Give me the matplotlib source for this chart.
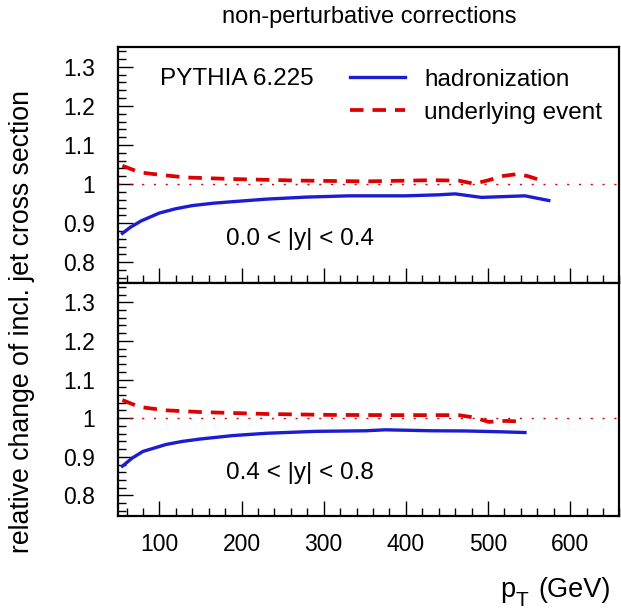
import numpy as np
import matplotlib
matplotlib.use('Agg')
import matplotlib.pyplot as plt
from matplotlib.ticker import MultipleLocator, FormatStrFormatter

plt.rcParams['font.family'] = ['Liberation Sans', 'DejaVu Sans']

# |y| < 0.4
pt_had_1 = [55, 65, 78, 100, 120, 140, 165, 189, 230, 278, 331, 400, 440, 460, 492, 545, 574]
had_1 = [0.874, 0.890, 0.906, 0.926, 0.937, 0.945, 0.951, 0.955, 0.9615, 0.9667, 0.970, 0.970,
         0.9726, 0.975, 0.966, 0.970, 0.958]
pt_ue_1 = [55, 76, 100, 132, 189, 270, 351, 432, 464, 483, 499, 519, 537, 549, 570]
ue_1 = [1.047, 1.030, 1.024, 1.017, 1.013, 1.009, 1.007, 1.010, 1.009, 1.001, 1.009, 1.021,
        1.026, 1.020, 1.006]

# 0.4 < |y| < 0.8
pt_had_2 = [55, 67, 80, 108, 128, 149, 189, 230, 290, 351, 375, 432, 473, 513, 545]
had_2 = [0.876, 0.897, 0.914, 0.932, 0.940, 0.946, 0.955, 0.961, 0.966, 0.9675, 0.970, 0.9675,
         0.967, 0.965, 0.963]
pt_ue_2 = [55, 76, 108, 149, 230, 310, 391, 464, 483, 501, 521, 541]
ue_2 = [1.047, 1.029, 1.0205, 1.016, 1.011, 1.0085, 1.008, 1.008, 1.002, 0.9905, 0.993, 0.9915]

panels = [(pt_had_1, had_1, pt_ue_1, ue_1, '0.0 < |y| < 0.4'),
          (pt_had_2, had_2, pt_ue_2, ue_2, '0.4 < |y| < 0.8')]

blue = '#1c1cd2'
red = '#dd0000'

fig = plt.figure(figsize=(6.21, 6.12), dpi=100)
ax1 = fig.add_axes([0.1905, 0.5376, 0.807, 0.3851])
ax2 = fig.add_axes([0.1905, 0.1569, 0.807, 0.3807], sharex=ax1)

for ax, (xh, yh, xu, yu, lab) in zip([ax1, ax2], panels):
    ax.axhline(1.0, color=red, lw=1.0, ls=(0, (1.5, 7)))
    ax.plot(xh, yh, color=blue, lw=2.4, label='hadronization')
    ax.plot(xu, yu, color=red, lw=2.7, ls=(0, (3.6, 2.4)), label='underlying event')
    ax.set_xlim(50, 660)
    ax.set_ylim(0.747, 1.35)
    ax.yaxis.set_major_locator(MultipleLocator(0.1))
    ax.yaxis.set_minor_locator(MultipleLocator(0.02))
    ax.yaxis.set_major_formatter(FormatStrFormatter('%g'))
    ax.xaxis.set_major_locator(MultipleLocator(100))
    ax.xaxis.set_minor_locator(MultipleLocator(20))
    ax.tick_params(which='both', direction='in', top=False, right=False,
                   labelsize=16.5, width=1)
    ax.tick_params(which='major', length=11)
    ax.tick_params(which='minor', length=5.5)
    ax.tick_params(axis='y', pad=17)
    ax.tick_params(axis='x', pad=12)
    for s in ax.spines.values():
        s.set_linewidth(1.6)
    ax.text(0.215, 0.185, lab, transform=ax.transAxes, fontsize=17.5,
            va='center', ha='left')

ax1.tick_params(axis='x', labelbottom=False)
ax1.text(0.083, 0.865, 'PYTHIA 6.225', transform=ax1.transAxes, fontsize=17.5,
         va='center', ha='left')
ax1.legend(loc='upper left', bbox_to_anchor=(0.462, 0.908), frameon=False,
           fontsize=17.5, handlelength=2.25, handletextpad=0.8,
           borderpad=0, borderaxespad=0, labelspacing=0.45)

fig.text(0.594, 0.972, 'non-perturbative corrections', fontsize=17,
         ha='center', va='center')
fig.text(0.036, 0.474, 'relative change of incl. jet cross section',
         fontsize=19.2, rotation=90, ha='center', va='center')

# x axis title p_T (GeV), ROOT style with a large subscript
fig.text(500 / 621, 1 - 597 / 612, 'p', fontsize=19.5, va='baseline')
fig.text(515 / 621, 1 - 606 / 612, 'T', fontsize=15, va='baseline')
fig.text(611 / 621, 1 - 597 / 612, '(GeV)', fontsize=19.5, ha='right', va='baseline')

fig.savefig('out.png', dpi=100)
